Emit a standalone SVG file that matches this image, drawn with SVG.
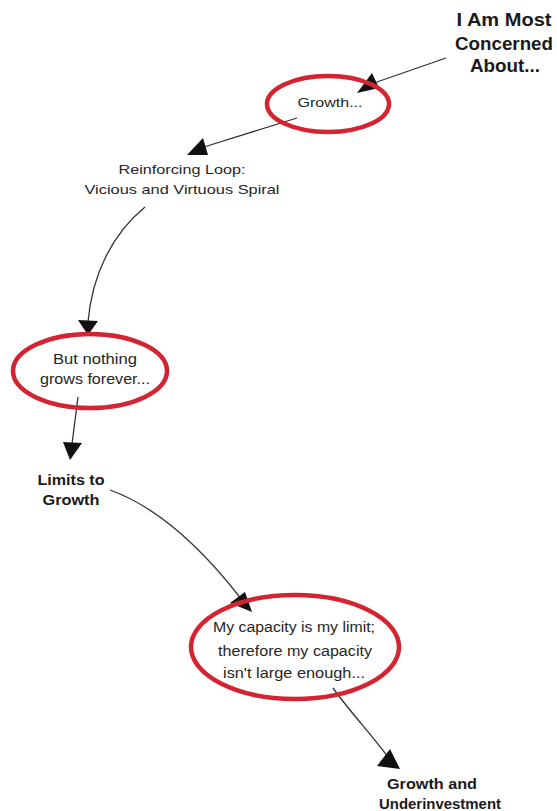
<svg xmlns="http://www.w3.org/2000/svg" width="557" height="811" viewBox="0 0 557 811">
  <style>
    .t { font-family: "Liberation Sans", Arial, sans-serif; fill: #262626; text-anchor: middle; }
    .b { font-weight: bold; fill: #1a1a1a; }
    .ring { fill: none; stroke: #d42331; stroke-width: 4.5; }
    .edge { fill: none; stroke: #333; stroke-width: 1.3; }
    .head { fill: #111; stroke: none; }
  </style>
  <rect width="557" height="811" fill="#ffffff"/>

  <!-- connectors -->
  <g id="connectors">
    <path class="edge" d="M446,58 L374,83"/>
    <polygon class="head" points="372,73 357,93 379,88"/>

    <path class="edge" d="M297,118 L204,147"/>
    <polygon class="head" points="187,155 203,138 208,155"/>

    <path class="edge" d="M145,207 C112,234 92,275 88,322"/>
    <polygon class="head" points="78,320 98,321 88,335"/>

    <path class="edge" d="M78,397 L72,444"/>
    <polygon class="head" points="63,442 82,443 70,460"/>

    <path class="edge" d="M110,490 C160,508 205,552 242,600"/>
    <polygon class="head" points="230,603 245,592 252,612"/>

    <path class="edge" d="M333,688 C350,712 372,735 388,757"/>
    <polygon class="head" points="390,749 377,766 400,769"/>
  </g>

  <!-- nodes -->
  <g id="concerned">
    <text class="t b" font-size="18" x="504" y="26" textLength="95" lengthAdjust="spacingAndGlyphs">I Am Most</text>
    <text class="t b" font-size="18" x="504" y="50" textLength="98" lengthAdjust="spacingAndGlyphs">Concerned</text>
    <text class="t b" font-size="18" x="505" y="72" textLength="70" lengthAdjust="spacingAndGlyphs">About...</text>
  </g>

  <g id="growth">
    <ellipse class="ring" cx="328" cy="104" rx="61" ry="28"/>
    <text class="t" font-size="12" x="330" y="107" textLength="65" lengthAdjust="spacingAndGlyphs">Growth...</text>
  </g>

  <g id="reinforcing">
    <text class="t" font-size="13.5" x="182" y="174" textLength="127" lengthAdjust="spacingAndGlyphs">Reinforcing Loop:</text>
    <text class="t" font-size="13.5" x="182" y="194" textLength="195" lengthAdjust="spacingAndGlyphs">Vicious and Virtuous Spiral</text>
  </g>

  <g id="nothing-grows">
    <ellipse class="ring" cx="90" cy="371" rx="77" ry="37"/>
    <text class="t" font-size="15" x="95" y="364" textLength="84" lengthAdjust="spacingAndGlyphs">But nothing</text>
    <text class="t" font-size="15" x="95" y="384" textLength="110" lengthAdjust="spacingAndGlyphs">grows forever...</text>
  </g>

  <g id="limits">
    <text class="t b" font-size="14" x="71" y="485" textLength="67" lengthAdjust="spacingAndGlyphs">Limits to</text>
    <text class="t b" font-size="14" x="71" y="505" textLength="57" lengthAdjust="spacingAndGlyphs">Growth</text>
  </g>

  <g id="capacity">
    <ellipse class="ring" cx="295" cy="647" rx="104" ry="52"/>
    <text class="t" font-size="14" x="294" y="632" textLength="162" lengthAdjust="spacingAndGlyphs">My capacity is my limit;</text>
    <text class="t" font-size="14" x="295" y="656" textLength="154" lengthAdjust="spacingAndGlyphs">therefore my capacity</text>
    <text class="t" font-size="14" x="294" y="678" textLength="142" lengthAdjust="spacingAndGlyphs">isn't large enough...</text>
  </g>

  <g id="underinvestment">
    <text class="t b" font-size="14" x="432" y="789" textLength="90" lengthAdjust="spacingAndGlyphs">Growth and</text>
    <text class="t b" font-size="14" x="440" y="809" textLength="122" lengthAdjust="spacingAndGlyphs">Underinvestment</text>
  </g>
</svg>
